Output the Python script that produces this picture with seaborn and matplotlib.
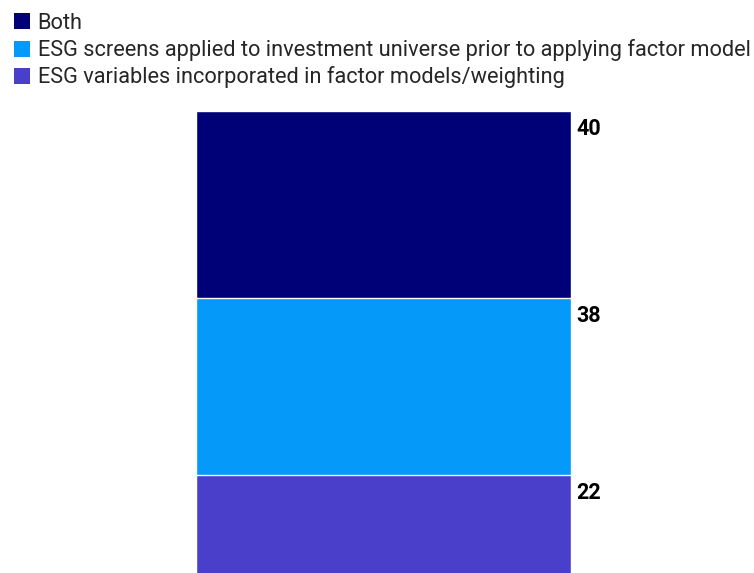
import matplotlib
matplotlib.use("Agg")
import matplotlib.pyplot as plt
import seaborn as sns
import pandas as pd
from matplotlib.patches import Patch

# data, bottom segment first
categories = [
    "ESG variables incorporated in factor models/weighting",
    "ESG screens applied to investment universe prior to applying factor model",
    "Both",
]
values = [22, 38, 40]
colors = ["#4a3fcb", "#0599fa", "#000077"]

sns.set_style("white")
plt.rcParams["font.family"] = ["Roboto", "DejaVu Sans"]

fig = plt.figure(figsize=(7.54, 5.73), dpi=100)
# bar runs slightly past the bottom edge like the original
ax = fig.add_axes([196 / 754, -5 / 573, 375 / 754, 467 / 573])

df = pd.DataFrame({"cat": categories, "value": values})
df["top"] = df["value"].cumsum()

# draw cumulative bars from the tallest down so they stack
for i in range(len(df) - 1, -1, -1):
    sns.barplot(x=["all"], y=[df["top"][i]], color=colors[i], width=1,
                edgecolor="white", linewidth=1.0, saturation=1, ax=ax)

for i in range(len(df)):
    ax.annotate(str(df["value"][i]), xy=(0.5, df["top"][i]), xytext=(4, -13),
                textcoords="offset points", ha="left", va="center",
                fontsize=15.5, fontweight="bold", color="black",
                annotation_clip=False)

ax.set_xlim(-0.5, 0.5)
ax.set_ylim(0, 100)
ax.axis("off")

handles = [Patch(facecolor=colors[i], edgecolor="none", label=categories[i])
           for i in range(len(df) - 1, -1, -1)]
fig.legend(handles=handles, loc="upper left", bbox_to_anchor=(-0.002, 1.004),
           frameon=False, fontsize=15.7, handlelength=0.75, handleheight=0.75,
           handletextpad=0.35, labelspacing=0.24, borderaxespad=0.3)

fig.savefig("out.png", dpi=100)
